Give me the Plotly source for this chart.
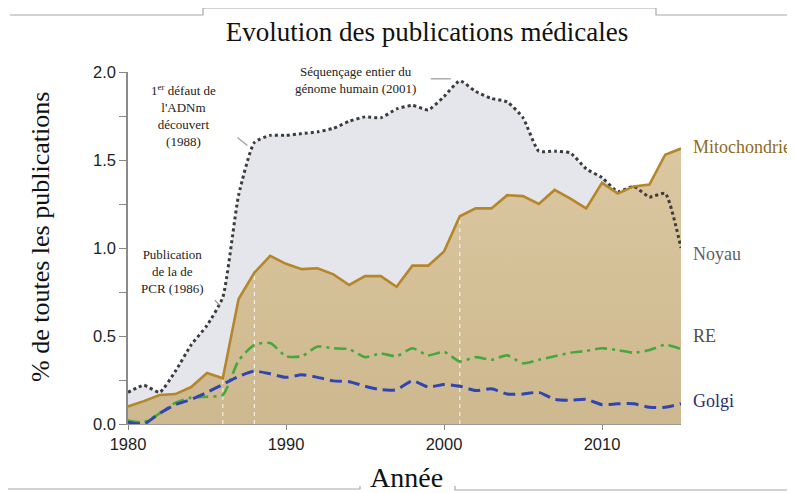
import plotly.graph_objects as go

years = [1980, 1981, 1982, 1983, 1984, 1985, 1986, 1987, 1988, 1989,
         1990, 1991, 1992, 1993, 1994, 1995, 1996, 1997, 1998, 1999,
         2000, 2001, 2002, 2003, 2004, 2005, 2006, 2007, 2008, 2009,
         2010, 2011, 2012, 2013, 2014, 2015]

noyau = [0.18, 0.22, 0.18, 0.30, 0.45, 0.56, 0.72, 1.30, 1.60, 1.64,
         1.64, 1.65, 1.66, 1.68, 1.72, 1.745, 1.74, 1.79, 1.81, 1.785,
         1.86, 1.95, 1.89, 1.85, 1.83, 1.74, 1.55, 1.55, 1.54, 1.45,
         1.40, 1.32, 1.35, 1.29, 1.31, 1.00]

mito = [0.10, 0.13, 0.165, 0.17, 0.21, 0.29, 0.26, 0.71, 0.86, 0.955,
        0.91, 0.88, 0.885, 0.85, 0.79, 0.84, 0.84, 0.78, 0.90, 0.90,
        0.98, 1.18, 1.225, 1.225, 1.30, 1.295, 1.25, 1.33, 1.28, 1.225,
        1.37, 1.31, 1.35, 1.36, 1.53, 1.565]

re_vals = [0.02, 0.01, 0.06, 0.12, 0.15, 0.155, 0.165, 0.36, 0.45, 0.46,
           0.385, 0.385, 0.44, 0.43, 0.425, 0.38, 0.40, 0.385, 0.43, 0.39,
           0.41, 0.355, 0.38, 0.365, 0.39, 0.345, 0.365, 0.385, 0.405, 0.415,
           0.43, 0.42, 0.405, 0.42, 0.45, 0.425]

golgi = [0.01, 0.0, 0.06, 0.11, 0.14, 0.18, 0.225, 0.27, 0.30, 0.285,
         0.265, 0.28, 0.265, 0.245, 0.24, 0.215, 0.195, 0.195, 0.245, 0.21,
         0.225, 0.215, 0.19, 0.20, 0.17, 0.17, 0.18, 0.14, 0.135, 0.14,
         0.11, 0.115, 0.115, 0.095, 0.095, 0.115]

event_years = [1986, 1988, 2001]
event_labels = ["Publication<br>de la de<br>PCR (1986)",
                "1<sup>er</sup> défaut de<br>l'ADNm<br>découvert<br>(1988)",
                "Séquençage entier du<br>génome humain (2001)"]

series_names = ["Mitochondrie", "Noyau", "RE", "Golgi"]

x_ticks = [1980, 1990, 2000, 2010]
y_ticks = [0.0, 0.5, 1.0, 1.5, 2.0]
y_tick_text = ["0.0", "0.5", "1.0", "1.5", "2.0"]

X_RANGE = [1980, 2015]
Y_RANGE = [0, 2.0]

# page is rendered with an 8px body margin
OFF = 8
PAGE_W, PAGE_H = 795, 493
W, H = PAGE_W - OFF, PAGE_H - OFF
PL, PR, PT, PB = 128, 681, 72, 424          # plot area in page pixels
PW, PH = PR - PL, PB - PT
ML, MT = PL - OFF, PT - OFF
MR, MB = W - ML - PW, H - MT - PH


def px(xp):
    return (xp - PL) / PW


def py(yp):
    return (PB - yp) / PH


def data_to_page(xv, yv):
    xp = PL + (xv - X_RANGE[0]) / (X_RANGE[1] - X_RANGE[0]) * PW
    yp = PB - (yv - Y_RANGE[0]) / (Y_RANGE[1] - Y_RANGE[0]) * PH
    return xp, yp


SERIF = "Liberation Serif"
SANS = "Liberation Sans"

fig = go.Figure()

# fills
fig.add_trace(go.Scatter(x=years, y=noyau, mode="lines", line=dict(width=0, shape="spline", smoothing=0.5),
                         fill="tozeroy", fillcolor="#e5e6eb", hoverinfo="skip", showlegend=False))
fig.add_trace(go.Scatter(x=years, y=mito, mode="lines", line=dict(width=0),
                         fill="tozeroy",
                         fillgradient=dict(type="vertical",
                                           colorscale=[[0, "rgb(205,184,143)"], [1, "rgb(219,199,160)"]]),
                         fillcolor="#d6bf98",
                         hoverinfo="skip", showlegend=False))

# event vertical dashed lines
for ev in event_years:
    fig.add_trace(go.Scatter(x=[ev, ev], y=[0, mito[years.index(ev)]], mode="lines",
                             line=dict(color="rgba(255,255,255,0.75)", width=1.2, dash="4px,4px"),
                             hoverinfo="skip", showlegend=False))

# lines
fig.add_trace(go.Scatter(x=years, y=noyau, mode="lines", name="Noyau",
                         line=dict(color="#3c3c40", width=3, dash="dot", shape="spline", smoothing=0.5),
                         showlegend=False))
fig.add_trace(go.Scatter(x=years, y=mito, mode="lines", name="Mitochondrie",
                         line=dict(color="#b5862a", width=2.6),
                         showlegend=False))
fig.add_trace(go.Scatter(x=years, y=re_vals, mode="lines", name="RE",
                         line=dict(color="#46a83a", width=2.6, dash="12px,5px,3px,5px", shape="spline", smoothing=0.6),
                         showlegend=False))
fig.add_trace(go.Scatter(x=years, y=golgi, mode="lines", name="Golgi",
                         line=dict(color="#3045b0", width=3, dash="12px,6px", shape="spline", smoothing=0.6),
                         showlegend=False))

annotations = []

# right-side labels
label_colors = ["#8c6d1e", "#5f5f66", "#505048", "#2a2f70"]
label_vals = [mito[-1], noyau[-1], re_vals[-1], golgi[-1]]
label_shift = [2, -6, 13, 3]
for name, col, v, sh in zip(series_names, label_colors, label_vals, label_shift):
    annotations.append(dict(x=years[-1], y=v, xref="x", yref="y", text=name, showarrow=False,
                            xanchor="left", yanchor="middle", xshift=10, yshift=sh,
                            font=dict(family=SERIF, size=18, color=col)))

# event text annotations
text_pos = [(172, 271), (183, 115), (355, 80)]
for lab, (tx, ty) in zip(event_labels, text_pos):
    annotations.append(dict(x=px(tx), y=py(ty), xref="paper", yref="paper", text=lab, showarrow=False,
                            xanchor="center", yanchor="middle", align="center",
                            font=dict(family=SERIF, size=13, color="#222222")))

# axis titles
annotations.append(dict(x=px(40), y=py(237), xref="paper", yref="paper", text="% de toutes les publications",
                        textangle=-90, showarrow=False, xanchor="center", yanchor="middle",
                        font=dict(family=SERIF, size=26, color="#111111")))
annotations.append(dict(x=px(406), y=py(477), xref="paper", yref="paper", text="Année",
                        showarrow=False, xanchor="center", yanchor="middle",
                        font=dict(family=SERIF, size=28, color="#111111")))

shapes = []

# leader lines (pixel offsets from the event point on the Noyau curve)
leader_offsets = [((-8, 3), (-3, 8)), ((-17, -5), (-7, 3)), ((-29, -2), (-9, -2))]
for ev, ((x0, y0), (x1, y1)) in zip(event_years, leader_offsets):
    xp, yp = data_to_page(ev, noyau[years.index(ev)])
    shapes.append(dict(type="line", xref="paper", yref="paper",
                       x0=px(xp + x0), y0=py(yp + y0), x1=px(xp + x1), y1=py(yp + y1),
                       line=dict(color="#a0a0a0", width=1.3)))

# slide decoration lines
deco_col = "#a8a8a8"
top_pts = [(10, 15), (203, 15), (203, 8), (656, 8), (656, 15), (795, 15)]
bot_pts = [(8, 489), (360, 489), (360, 486)]
bot_pts2 = [(455, 486), (455, 490), (795, 490)]
for pts in (top_pts, bot_pts, bot_pts2):
    path = "M " + " L ".join(f"{px(a):.5f},{py(b):.5f}" for a, b in pts)
    shapes.append(dict(type="path", path=path, xref="paper", yref="paper",
                       line=dict(color=deco_col, width=1.2)))

fig.update_layout(
    width=W, height=H,
    margin=dict(l=ML, r=MR, t=MT, b=MB, autoexpand=False),
    paper_bgcolor="white", plot_bgcolor="white",
    title=dict(text="Evolution des publications médicales", x=(427 - OFF) / W, y=1 - (32 - OFF) / H,
               xanchor="center", yanchor="middle", xref="container", yref="container",
               font=dict(family=SERIF, size=27, color="#111111")),
    annotations=annotations,
    shapes=shapes,
    showlegend=False,
)

fig.update_xaxes(range=X_RANGE, tickvals=x_ticks, ticks="outside", ticklen=5, tickwidth=1.2,
                 tickcolor="#888888", showgrid=False, zeroline=False, showline=True,
                 linecolor="#9a9a9a", linewidth=1,
                 tickfont=dict(family=SANS, size=16.5, color="#1e1e1e"))
fig.update_yaxes(range=Y_RANGE, tickvals=y_ticks, ticktext=y_tick_text, ticks="outside", ticklen=7,
                 tickwidth=1.2, tickcolor="#888888", showgrid=False, zeroline=False, showline=True,
                 linecolor="#8a8a8a", linewidth=1.5,
                 minor=dict(dtick=0.25, ticks="outside", ticklen=7, tickcolor="#888888", tickwidth=1.2),
                 tickfont=dict(family=SANS, size=16.5, color="#1e1e1e"))

fig.write_html("out.html")
